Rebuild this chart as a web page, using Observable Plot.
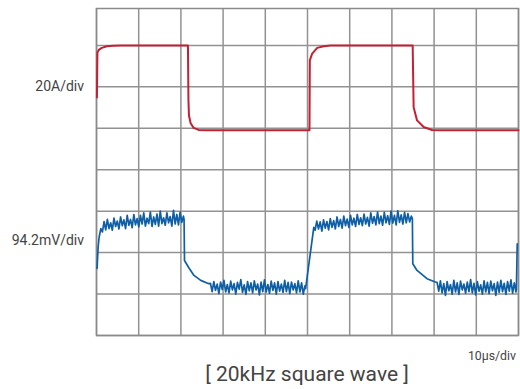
<!DOCTYPE html>
<html>
<head>
<meta charset="utf-8">
<script src="https://cdn.jsdelivr.net/npm/d3@7"></script>
<script src="https://cdn.jsdelivr.net/npm/@observablehq/plot@0.6"></script>
<style>
  body { margin: 0; background: #fff; font-family: Roboto, "Noto Sans", sans-serif; }
  #wrap { position: relative; width: 520px; height: 389px; }
  #chart svg { display: block; }
  .caption { position: absolute; right: 4px; top: 348.8px; font-size: 12.3px; line-height: 14px; color: #444; }
  .title { position: absolute; left: 96px; width: 422px; top: 362px; font-size: 21px; line-height: 25px; color: #444; text-align: center; white-space: nowrap; }
</style>
</head>
<body>
<div id="wrap">
  <div id="chart"></div>
  <div class="caption">10µs/div</div>
  <div class="title">[ 20kHz square wave ]</div>
</div>
<script>
// time in µs (10 µs per division), vertical position in divisions
const xGrid = [0, 10, 20, 30, 40, 50, 60, 70, 80, 90, 100];
const yGrid = [0, 1, 2, 3, 4, 5, 6, 7];
const channelLabels = ["20A/div", "94.2mV/div"];
const channelLabelY = [6, 2.29];

// Current trace (red)
const redT = [0.1, 0.22, 0.54, 1.25, 2.44, 3.86, 5.75, 21.67, 21.79, 21.91, 22.31, 23.02, 24.2, 25.87,
  50.47, 50.55, 51.1, 52.3, 53.86, 55.44, 74.92, 75.15, 75.96, 77.52, 79.5, 81.47, 100];
const redD = [5.74, 6.83, 6.89, 6.94, 6.98, 6.99, 7.0, 7.0, 5.67, 5.31, 5.12, 5.01, 4.96, 4.95,
  4.95, 6.64, 6.80, 6.94, 6.98, 7.0, 7.0, 5.51, 5.19, 5.03, 4.96, 4.95, 4.95];

// Voltage trace (blue): edges as explicit points, noisy plateaus as sampled values
const blueStartT = [0.14, 0.38, 0.62, 1.02];
const blueStartD = [1.62, 2.13, 2.37, 2.58];
const blueHigh1Span = [1.4, 20.6];
const blueHigh1 = [2.50, 2.75, 2.55, 2.80, 2.58, 2.72, 2.54, 2.83, 2.63, 2.76,
  2.57, 2.86, 2.65, 2.79, 2.58, 2.90, 2.66, 2.80, 2.60, 2.92,
  2.67, 2.82, 2.62, 2.90, 2.69, 2.96, 2.64, 2.83, 2.70, 2.98,
  2.63, 2.86, 2.68, 2.93, 2.64, 3.00, 2.70, 2.84, 2.66, 2.96,
  2.72, 2.87, 2.64, 3.02, 2.69, 2.92, 2.67, 2.98, 2.73, 2.88];
const blueFall1T = [20.75, 20.85, 21.84, 23.1, 24.7, 26.6];
const blueFall1D = [2.80, 1.81, 1.64, 1.45, 1.33, 1.25];
const blueLow1Span = [27.0, 49.4];
const blueLow1 = [1.26, 1.06, 1.30, 1.09, 1.24, 1.01, 1.29, 1.11, 1.33, 1.05,
  1.23, 1.03, 1.31, 1.10, 1.25, 1.00, 1.28, 1.12, 1.35, 1.04,
  1.22, 0.99, 1.30, 1.08, 1.27, 1.03, 1.32, 1.10, 1.24, 0.98,
  1.29, 1.06, 1.34, 1.05, 1.23, 1.02, 1.31, 1.09, 1.27, 1.00,
  1.30, 1.07, 1.24, 1.04, 1.33, 1.06, 1.28, 1.01, 1.29, 1.10,
  1.25, 1.03, 1.32, 1.05, 1.27, 1.00, 1.20];
const blueRise1T = [49.55, 51.49];
const blueRise1D = [1.13, 2.61];
const blueHigh2Span = [51.8, 74.6];
const blueHigh2 = [2.54, 2.76, 2.57, 2.74, 2.52, 2.79, 2.59, 2.75, 2.55, 2.82,
  2.61, 2.77, 2.57, 2.86, 2.63, 2.80, 2.59, 2.88, 2.65, 2.81,
  2.61, 2.90, 2.67, 2.83, 2.63, 2.92, 2.68, 2.84, 2.65, 2.93,
  2.69, 2.85, 2.64, 2.96, 2.71, 2.87, 2.67, 2.98, 2.70, 2.88,
  2.66, 2.97, 2.72, 2.89, 2.68, 3.00, 2.71, 2.90, 2.67, 3.01,
  2.73, 2.91, 2.69, 2.97, 2.72, 2.94, 2.74, 2.88];
const blueFall2T = [74.85, 74.95, 75.96, 78.32, 80.29];
const blueFall2D = [2.82, 1.73, 1.57, 1.37, 1.29];
const blueLow2Span = [80.7, 99.4];
const blueLow2 = [1.28, 1.07, 1.32, 1.03, 1.25, 0.97, 1.30, 1.08, 1.23, 1.00,
  1.33, 1.05, 1.27, 0.99, 1.31, 1.10, 1.24, 1.02, 1.29, 1.06,
  1.35, 1.03, 1.26, 0.98, 1.30, 1.07, 1.22, 1.00, 1.32, 1.05,
  1.28, 1.01, 1.31, 1.08, 1.25, 0.97, 1.29, 1.04, 1.33, 1.06,
  1.26, 0.99, 1.30, 1.07, 1.34, 1.02, 1.27, 1.05];
const blueEndT = [99.5, 99.7];
const blueEndD = [1.12, 2.21];

// build tables
const pts = (ts, ds) => ts.map((t, i) => ({t, d: ds[i]}));
const samples = (span, vals) => vals.map((d, i) => ({t: span[0] + i * (span[1] - span[0]) / (vals.length - 1), d}));

const red = pts(redT, redD);
const blue = [].concat(
  pts(blueStartT, blueStartD),
  samples(blueHigh1Span, blueHigh1),
  pts(blueFall1T, blueFall1D),
  samples(blueLow1Span, blueLow1),
  pts(blueRise1T, blueRise1D),
  samples(blueHigh2Span, blueHigh2),
  pts(blueFall2T, blueFall2D),
  samples(blueLow2Span, blueLow2),
  pts(blueEndT, blueEndD)
);
const labels = channelLabels.map((text, i) => ({text, y: channelLabelY[i]}));

const chart = Plot.plot({
  width: 520,
  height: 345,
  marginLeft: 96,
  marginRight: 2,
  marginTop: 8,
  marginBottom: 10,
  style: {fontFamily: "Roboto, sans-serif", background: "#fff"},
  x: {domain: [0, 100], axis: null},
  y: {domain: [0, 7.89], axis: null},
  marks: [
    Plot.ruleX(xGrid, {stroke: "#929292", strokeWidth: 1.5}),
    Plot.ruleY(yGrid, {stroke: "#929292", strokeWidth: 1.5}),
    Plot.frame({stroke: "#8a8a8a", strokeWidth: 1.5}),
    Plot.line(red, {x: "t", y: "d", stroke: "#c51f34", strokeWidth: 2, strokeLinejoin: "round"}),
    Plot.line(blue, {x: "t", y: "d", stroke: "#0f5fa6", strokeWidth: 1.7, strokeLinejoin: "round"}),
    Plot.text(labels, {x: () => 0, y: "y", text: "text", textAnchor: "end", dx: -12.5, fontSize: 14, fill: "#444"})
  ]
});
document.getElementById("chart").appendChild(chart);
</script>
</body>
</html>
